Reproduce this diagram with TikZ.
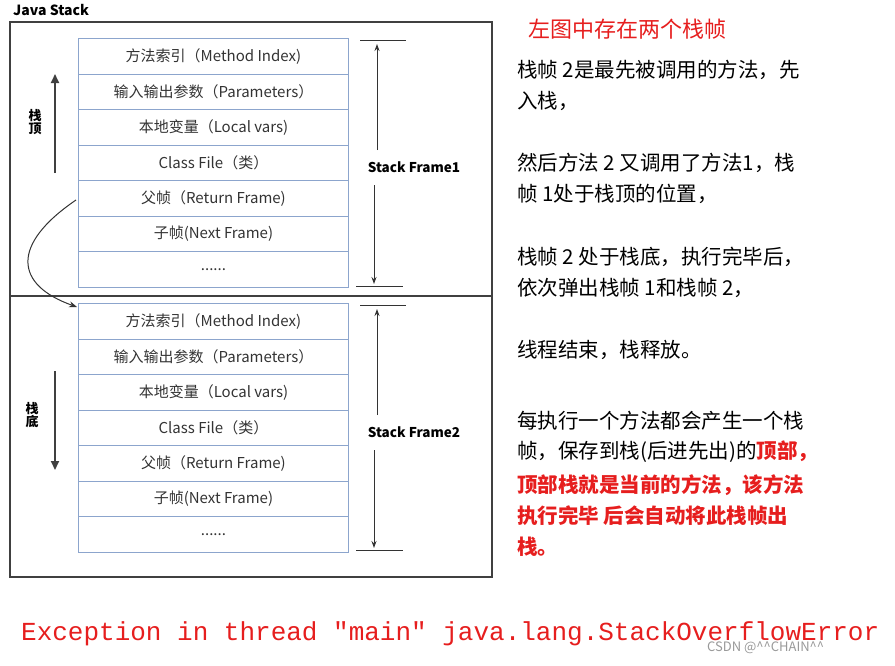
\documentclass[tikz,border=0pt]{standalone}
\usepackage{fontspec}
\setmainfont{Noto Sans CJK SC}
\newfontfamily\monof{Liberation Mono}
\usetikzlibrary{arrows.meta}
\definecolor{cellb}{RGB}{140,165,205}
\definecolor{txtred}{RGB}{230,30,30}
\begin{document}
\begin{tikzpicture}[x=1pt,y=-1pt,
  cell/.style={draw=cellb,line width=0.9pt,minimum width=270pt,minimum height=35.5pt,inner sep=0pt,anchor=north west,font=\fontsize{15}{15}\selectfont,text=black!80},
  rt/.style={anchor=west,inner sep=0pt,font=\fontsize{20.5}{20.5}\selectfont},
  tick/.style={line width=0.8pt,black!80},
  varr/.style={line width=1pt,black!80,-{Stealth[length=7pt,width=5pt]}},
  sarr/.style={line width=2pt,black!75,-{Triangle[length=9pt,width=8pt]}},
  side/.style={font=\bfseries\fontsize{13}{13}\selectfont,align=center,inner sep=0pt}]
\useasboundingbox (0,0) rectangle (895,665);
\node[anchor=west,inner sep=0pt,font=\bfseries\fontsize{14}{14}\selectfont] (title) at (13,10) {Java Stack};
\draw[line width=1.2pt,black!75] (10,22) rectangle (492,577);
\coordinate (dl) at (10,296); \coordinate (dr) at (492,296);
\draw[line width=1.2pt,black!75] (dl) -- (dr);
% frames
\foreach \f/\y in {1/38,2/303}{
  \node[cell] (a\f) at (78,\y) {方法索引（Method Index)};
  \node[cell] (b\f) at (78,\y+35.5) {输入输出参数（Parameters）};
  \node[cell] (c\f) at (78,\y+71) {本地变量（Local vars)};
  \node[cell] (d\f) at (78,\y+106.5) {Class File（类）};
  \node[cell] (e\f) at (78,\y+142) {父帧（Return Frame)};
  \node[cell] (g\f) at (78,\y+177.5) {子帧(Next Frame)};
  \node[cell] (h\f) at (78,\y+213) {......};
}
% frame labels
\node[font=\bfseries\fontsize{13.5}{13.5}\selectfont,inner sep=2pt] (sf1) at (414,167) {Stack Frame1};
\node[font=\bfseries\fontsize{13.5}{13.5}\selectfont,inner sep=2pt] (sf2) at (414,432) {Stack Frame2};
\coordinate (t1a) at (360,40); \coordinate (t1b) at (406,40);
\coordinate (t1c) at (356,286); \coordinate (t1d) at (403,286);
\draw[tick] (t1a) -- (t1b); \draw[tick] (t1c) -- (t1d);
\coordinate (u1) at (377,44); \coordinate (u1e) at (377,150);
\coordinate (l1) at (374,284); \coordinate (l1e) at (374,185);
\draw[varr] (u1e) -- (u1); \draw[varr] (l1e) -- (l1);
\coordinate (t2a) at (360,305); \coordinate (t2b) at (406,305);
\coordinate (t2c) at (356,550); \coordinate (t2d) at (403,550);
\draw[tick] (t2a) -- (t2b); \draw[tick] (t2c) -- (t2d);
\coordinate (u2) at (377,309); \coordinate (u2e) at (377,415);
\coordinate (l2) at (374,548); \coordinate (l2e) at (374,450);
\draw[varr] (u2e) -- (u2); \draw[varr] (l2e) -- (l2);
% side labels
\node[side] (top) at (35,122) {栈\\顶};
\coordinate (ta) at (55,173); \coordinate (tb) at (55,74);
\draw[sarr] (ta) -- (tb);
\node[side] (bot) at (32,415) {栈\\底};
\coordinate (ba) at (55,371); \coordinate (bb) at (55,470);
\draw[sarr] (ba) -- (bb);
% curve
\coordinate (cs) at (76,200); \coordinate (ce) at (77,307);
\draw[line width=1pt,black!80,-{Stealth[length=8pt,width=6pt]}] (cs) .. controls (10,245) and (15,285) .. (ce);
% right text
\node[anchor=west,inner sep=0pt,text=txtred,font=\fontsize{22}{22}\selectfont] (hd) at (528,29) {左图中存在两个栈帧};
\node[rt] (r1) at (517,70) {栈帧 2是最先被调用的方法，先};
\node[rt] (r2) at (517,101) {入栈，};
\node[rt] (r3) at (517,163) {然后方法 2 又调用了方法1，栈};
\node[rt] (r4) at (517,194) {帧 1处于栈顶的位置，};
\node[rt] (r5) at (517,257) {栈帧 2 处于栈底，执行完毕后，};
\node[rt] (r6) at (517,288) {依次弹出栈帧 1和栈帧 2，};
\node[rt] (r7) at (517,350) {线程结束，栈释放。};
\node[rt] (r8) at (517,421) {每执行一个方法都会产生一个栈};
\node[rt] (r9) at (517,452) {帧，保存到栈(后进先出)的\textcolor{txtred}{\bfseries 顶部，}};
\node[rt,text=txtred,font=\bfseries\fontsize{20.5}{20.5}\selectfont] (r10) at (517,485) {顶部栈就是当前的方法，该方法};
\node[rt,text=txtred,font=\bfseries\fontsize{20.5}{20.5}\selectfont] (r11) at (517,516) {执行完毕 后会自动将此栈帧出};
\node[rt,text=txtred,font=\bfseries\fontsize{20.5}{20.5}\selectfont] (r12) at (517,547) {栈。};
% exception
\node[anchor=west,inner sep=0pt,text=txtred,font=\monof\fontsize{26}{26}\selectfont] (ex) at (21,634) {Exception in thread "main" java.lang.StackOverflowError};
\node[anchor=west,inner sep=0pt,text=black!40,font=\fontsize{13}{13}\selectfont] (wm) at (707,648) {CSDN @\^{}\^{}CHAIN\^{}\^{}};
\end{tikzpicture}
\end{document}
